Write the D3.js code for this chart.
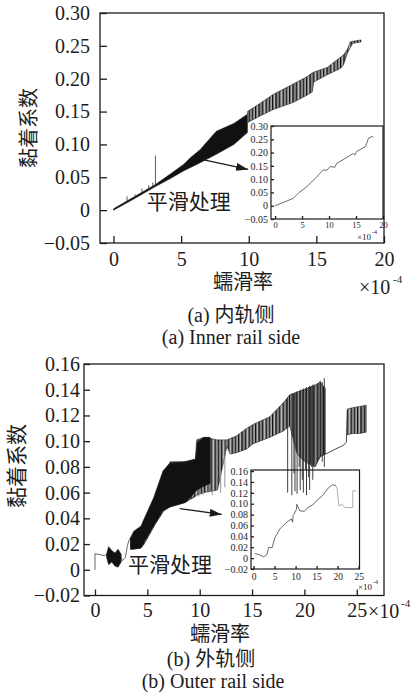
<!DOCTYPE html>
<html>
<head>
<meta charset="utf-8">
<script src="https://cdn.jsdelivr.net/npm/d3@7"></script>
<style>
  body { margin: 0; background: #fff; }
  svg text { font-family: "Liberation Serif", "Noto Sans CJK SC", serif; }
</style>
</head>
<body>
<svg width="414" height="694"></svg>
<script>
// ---------- (a) inner rail side: raw adhesion ----------
let innerBandX  = [0, 1.5, 3.1, 4.2, 5.2, 5.7, 6.4, 7.6, 8.9, 9.9];
let innerBandHi = [0.002, 0.020, 0.039, 0.055, 0.070, 0.080, 0.092, 0.120, 0.132, 0.146];
let innerBandLo = [0, 0.017, 0.036, 0.048, 0.060, 0.065, 0.072, 0.085, 0.100, 0.118];

let innerStripX  = [9.9, 10.8, 11.8, 13.3, 14.3, 14.7, 14.8, 15.8, 16.8, 17.0, 17.3, 17.5, 17.7, 18.3];
let innerStripHi = [0.150, 0.162, 0.176, 0.192, 0.203, 0.209, 0.210, 0.217, 0.233, 0.236, 0.245, 0.256, 0.257, 0.259];
let innerStripLo = [0.133, 0.143, 0.153, 0.164, 0.175, 0.180, 0.195, 0.206, 0.216, 0.221, 0.239, 0.247, 0.254, 0.256];

let innerSpikeX  = [1.0, 1.6, 2.1, 2.6, 2.9, 3.1];
let innerSpikeLo = [0.012, 0.019, 0.026, 0.032, 0.036, 0.038];
let innerSpikeHi = [0.021, 0.024, 0.033, 0.038, 0.042, 0.083];

// smoothed (inset)
let innerSmoothX = [0, 1.5, 3.4, 4.3, 5.9, 7.5, 8.9, 9.6, 10.2, 11.1, 11.4, 13.0, 14.5, 14.8, 15.1, 16.7, 17.0, 17.3, 17.9, 18.2];
let innerSmoothY = [0, 0.012, 0.028, 0.047, 0.072, 0.104, 0.134, 0.134, 0.147, 0.145, 0.159, 0.178, 0.197, 0.191, 0.204, 0.222, 0.235, 0.254, 0.260, 0.259];

let innerXTicks = [0, 5, 10, 15, 20];
let innerYTicks = [-0.05, 0, 0.05, 0.10, 0.15, 0.20, 0.25, 0.30];

// ---------- (b) outer rail side ----------
let outerStartX = [0, 0, 0.9, 1.1];
let outerStartY = [0, 0.0125, 0.011, 0.012];

let outerBlobX  = [1.1, 1.3, 1.6, 1.9, 2.2, 2.5];
let outerBlobHi = [0.012, 0.018, 0.015, 0.013, 0.016, 0.012];
let outerBlobLo = [0.010, 0.004, 0.006, 0.003, 0.002, 0.006];

let outerZigX = [2.5, 2.6, 2.9, 3.1, 3.25, 3.4];
let outerZigY = [0.010, 0.007, 0.0096, 0.019, 0.023, 0.025];

let outerEnvX  = [3.4, 4.4, 4.7, 5.8, 6.6, 7.2, 8.5, 9.6, 9.7, 10.4, 11.7, 12.6, 12.9, 13.5, 14.5, 15.1, 16.7, 18.0, 18.6, 19.3, 19.9, 20.5, 21.0, 21.5, 22.0];
let outerEnvHi = [0.025, 0.032, 0.038, 0.058, 0.077, 0.084, 0.084, 0.086, 0.101, 0.103, 0.101, 0.101, 0.102, 0.104, 0.110, 0.113, 0.119, 0.130, 0.136, 0.138, 0.140, 0.142, 0.1435, 0.146, 0.141];
let outerEnvLo = [0.016, 0.017, 0.020, 0.036, 0.046, 0.049, 0.052, 0.057, 0.058, 0.060, 0.062, 0.096, 0.090, 0.091, 0.094, 0.098, 0.103, 0.108, 0.112, 0.090, 0.085, 0.082, 0.080, 0.088, 0.090];

let outerCoreX  = [3.4, 3.7, 4.4, 4.6, 5.6, 6.5, 7.2, 8.7, 9.6, 9.75, 10.4, 11.0];
let outerCoreHi = [0.025, 0.030, 0.034, 0.038, 0.056, 0.077, 0.083, 0.084, 0.086, 0.099, 0.103, 0.103];
let outerCoreLo = [0.016, 0.016, 0.017, 0.020, 0.034, 0.046, 0.049, 0.0525, 0.061, 0.062, 0.065, 0.067];

let outerSpikeX  = [18.4, 18.8, 19.0, 19.1, 19.3, 19.5, 19.6, 19.8, 19.9, 20.1, 20.2, 20.4, 20.5, 20.7, 20.8, 21.0, 21.3, 21.5, 21.7, 21.9];
let outerSpikeLo = [0.060, 0.058, 0.075, 0.061, 0.059, 0.080, 0.062, 0.070, 0.060, 0.078, 0.058, 0.072, 0.062, 0.080, 0.070, 0.082, 0.086, 0.088, 0.084, 0.080];
let outerSpikeHi = [0.134, 0.137, 0.137, 0.138, 0.139, 0.139, 0.140, 0.140, 0.141, 0.141, 0.142, 0.142, 0.143, 0.143, 0.144, 0.144, 0.145, 0.147, 0.146, 0.149];

let outerGrayX  = [9.9, 10.3, 10.8, 11.2, 11.6, 12.0, 12.4];
let outerGrayLo = [0.057, 0.058, 0.060, 0.058, 0.062, 0.060, 0.064];
let outerGrayHi = [0.100, 0.103, 0.103, 0.101, 0.101, 0.101, 0.101];

let outerTailX = [21.0, 21.5, 22.4, 23.0, 23.7, 24.0, 24.1];
let outerTailY = [0.080, 0.088, 0.0915, 0.094, 0.0967, 0.099, 0.124];

let outerBoxX  = [24.1, 24.6, 25.3, 25.9];
let outerBoxHi = [0.125, 0.126, 0.127, 0.128];
let outerBoxLo = [0.105, 0.106, 0.106, 0.107];

let outerSmoothX = [0.3, 1.6, 2.4, 3.2, 3.6, 4.4, 5.1, 6.3, 7.9, 9.0, 9.3, 9.4, 9.6, 10.2, 10.3, 11.0, 12.1, 12.9, 14.1, 14.9, 16.4, 17.9, 18.8, 19.6, 19.9, 20.3, 21.1, 21.7, 23.6, 23.6, 24.2, 24.5];
let outerSmoothY = [0.0085, 0.0055, 0.0024, 0.007, 0.020, 0.019, 0.038, 0.054, 0.066, 0.072, 0.066, 0.078, 0.080, 0.090, 0.099, 0.087, 0.086, 0.093, 0.098, 0.105, 0.115, 0.130, 0.135, 0.133, 0.127, 0.096, 0.099, 0.093, 0.093, 0.124, 0.124, 0.122];

let outerXTicks = [0, 5, 10, 15, 20, 25];
let outerYTicks = [-0.02, 0, 0.02, 0.04, 0.06, 0.08, 0.10, 0.12, 0.14, 0.16];

let insetXTicksA = [0, 5, 10, 15, 20];
let insetXTicksB = [0, 5, 10, 15, 20, 25];

// ---------------------------------------------------------------
let svg = d3.select("svg");
let serif = '"Liberation Serif", "Noto Sans CJK SC", serif';
let ink = "#1c1c1c";

let defs = svg.append("defs");
let pat = defs.append("pattern").attr("id", "stripes")
    .attr("patternUnits", "userSpaceOnUse").attr("width", 17).attr("height", 10);
pat.append("rect").attr("width", 17).attr("height", 10).attr("fill", "#8e8e8e");
[[0, 1.2, "#111"], [2.1, 0.5, "#e0e0e0"], [3.3, 1.5, "#222"], [5.8, 0.6, "#555"],
 [7.2, 1.0, "#111"], [9.1, 0.6, "#d8d8d8"], [10.6, 1.3, "#2a2a2a"], [12.8, 0.5, "#666"],
 [14.2, 0.9, "#151515"], [16, 0.5, "#bbb"]]
  .forEach(s => pat.append("rect").attr("x", s[0]).attr("width", s[1]).attr("height", 10).attr("fill", s[2]));

defs.append("marker").attr("id", "arrow")
    .attr("viewBox", "0 0 12 8").attr("refX", 12).attr("refY", 4)
    .attr("markerWidth", 12).attr("markerHeight", 8)
    .attr("markerUnits", "userSpaceOnUse").attr("orient", "auto")
  .append("path").attr("d", "M0,0L12,4L0,8Z").attr("fill", ink);

let yFmt = d => d === 0 ? "0" : d3.format(".2f")(d);

function axes(g, x, y, o) {
  let left = x.range()[0], right = x.range()[1];
  let bottom = y.range()[0], top = y.range()[1];
  g.append("g").attr("transform", "translate(0," + bottom + ")")
      .call(d3.axisBottom(x).tickValues(o.xTicks).tickSize(-o.tick).tickPadding(o.xPad).tickFormat(d3.format("d")))
      .call(a => a.select(".domain").remove())
      .attr("font-size", o.xFont);
  g.append("g").attr("transform", "translate(" + left + ",0)")
      .call(d3.axisLeft(y).tickValues(o.yTicks).tickSize(-o.tick).tickPadding(o.yPad).tickFormat(yFmt))
      .call(a => a.select(".domain").remove())
      .attr("font-size", o.yFont);
  g.selectAll(".tick line").attr("stroke", ink).attr("stroke-width", o.sw);
  g.selectAll(".tick text").attr("fill", ink).style("font-family", serif);
  g.append("rect").attr("x", left).attr("y", top)
      .attr("width", right - left).attr("height", bottom - top)
      .attr("fill", "none").attr("stroke", ink).attr("stroke-width", o.sw);
}

function band(g, x, y, xs, hi, lo, fill) {
  g.append("path").datum(d3.zip(xs, hi, lo))
      .attr("d", d3.area().x(d => x(d[0])).y1(d => y(d[1])).y0(d => y(d[2])))
      .attr("fill", fill).attr("stroke", ink).attr("stroke-width", 0.6);
}

function polyline(g, x, y, xs, ys, color, w) {
  g.append("path").datum(d3.zip(xs, ys))
      .attr("d", d3.line().x(d => x(d[0])).y(d => y(d[1])))
      .attr("fill", "none").attr("stroke", color).attr("stroke-width", w);
}

function spikes(g, x, y, xs, lo, hi, color, w) {
  g.selectAll(null).data(d3.zip(xs, lo, hi)).enter().append("line")
      .attr("x1", d => x(d[0])).attr("x2", d => x(d[0]))
      .attr("y1", d => y(d[1])).attr("y2", d => y(d[2]))
      .attr("stroke", color).attr("stroke-width", w || 0.8);
}

function label(g, x, y, txt, size, anchor) {
  return g.append("text").attr("x", x).attr("y", y).text(txt)
      .style("font-family", serif).attr("font-size", size)
      .attr("text-anchor", anchor || "start").attr("fill", ink);
}

// ================= (a) =================
let gA = svg.append("g");
let xA = d3.scaleLinear().domain([-1, 20]).range([100, 384]);
let yA = d3.scaleLinear().domain([-0.05, 0.30]).range([243, 13]);

band(gA, xA, yA, innerBandX, innerBandHi, innerBandLo, "#111");
band(gA, xA, yA, innerStripX, innerStripHi, innerStripLo, "url(#stripes)");
spikes(gA, xA, yA, innerSpikeX, innerSpikeLo, innerSpikeHi, "#333");

// inset
gA.append("rect").attr("x", 250).attr("y", 122).attr("width", 133).attr("height", 115).attr("fill", "#fff");
let xAi = d3.scaleLinear().domain([-0.75, 20]).range([271, 383]);
let yAi = d3.scaleLinear().domain([-0.05, 0.30]).range([219, 126]);
polyline(gA, xAi, yAi, innerSmoothX, innerSmoothY, "#444", 0.8);
axes(gA, xAi, yAi, {xTicks: insetXTicksA, yTicks: innerYTicks, tick: 3, xPad: 3, yPad: 3, xFont: 8.5, yFont: 10, sw: 1.2});
label(gA, 357, 240, "×10", 9);
label(gA, 372, 234, "-4", 6);

axes(gA, xA, yA, {xTicks: innerXTicks, yTicks: innerYTicks, tick: 7, xPad: 9, yPad: 10, xFont: 20, yFont: 20, sw: 1.3});

gA.append("line")
    .attr("x1", xA(6.6)).attr("y1", yA(0.077)).attr("x2", xA(9.95)).attr("y2", yA(0.062))
    .attr("stroke", ink).attr("stroke-width", 1.3).attr("marker-end", "url(#arrow)");
label(gA, xA(2.45), yA(0.0015), "平滑处理", 21);

label(gA, 29, 128, "黏着系数", 20, "middle")
    .attr("transform", "rotate(-90,29,128)").attr("dy", "0.35em");
label(gA, 243, 289, "蠕滑率", 20, "middle");
label(gA, 359, 294, "×10", 20);
label(gA, 393, 283, "-4", 11);
label(gA, 231, 322, "(a)  内轨侧", 20, "middle");
label(gA, 231, 344, "(a)  Inner rail side", 20, "middle");

// ================= (b) =================
let gB = svg.append("g");
let xB = d3.scaleLinear().domain([-1.05, 27.6]).range([84, 384]);
let yB = d3.scaleLinear().domain([-0.02, 0.16]).range([595.5, 364]);
let xBi = d3.scaleLinear().domain([-0.6, 25.2]).range([251, 359.5]);
let yBi = d3.scaleLinear().domain([-0.02, 0.162]).range([569, 470]);

gB.append("rect").attr("x", 220).attr("y", 466).attr("width", 142).attr("height", 124).attr("fill", "#fff");

polyline(gB, xB, yB, outerStartX, outerStartY, "#555", 0.9);
band(gB, xB, yB, outerBlobX, outerBlobHi, outerBlobLo, "#111");
polyline(gB, xB, yB, outerZigX, outerZigY, "#555", 0.9);
band(gB, xB, yB, outerEnvX, outerEnvHi, outerEnvLo, "url(#stripes)");
spikes(gB, xB, yB, outerGrayX, outerGrayLo, outerGrayHi, "#888", 0.9);
band(gB, xB, yB, outerCoreX, outerCoreHi, outerCoreLo, "#111");
spikes(gB, xB, yB, outerSpikeX, outerSpikeLo, outerSpikeHi, "#2a2a2a", 0.9);
polyline(gB, xB, yB, outerTailX, outerTailY, "#333", 0.9);
band(gB, xB, yB, outerBoxX, outerBoxHi, outerBoxLo, "url(#stripes)");

// inset
let split = outerSmoothX.findIndex(v => v >= 19.6);
polyline(gB, xBi, yBi, outerSmoothX.slice(0, split + 1), outerSmoothY.slice(0, split + 1), "#444", 0.8);
polyline(gB, xBi, yBi, outerSmoothX.slice(split), outerSmoothY.slice(split), "#999", 0.8);
axes(gB, xBi, yBi, {xTicks: insetXTicksB, yTicks: outerYTicks, tick: 3, xPad: 4, yPad: 3, xFont: 9.5, yFont: 10, sw: 1.2});
label(gB, 358, 590, "×10", 9);
label(gB, 373, 584, "-4", 6);

axes(gB, xB, yB, {xTicks: outerXTicks, yTicks: outerYTicks, tick: 6, xPad: 7, yPad: 4, xFont: 20, yFont: 20, sw: 1.3});

gB.append("line")
    .attr("x1", xB(8.1)).attr("y1", yB(0.0476)).attr("x2", xB(12.1)).attr("y2", yB(0.043))
    .attr("stroke", ink).attr("stroke-width", 1.3).attr("marker-end", "url(#arrow)");
label(gB, xB(3.15), yB(-0.0016), "平滑处理", 21);

label(gB, 17, 466, "黏着系数", 21, "middle")
    .attr("transform", "rotate(-90,17,466)").attr("dy", "0.35em");
label(gB, 220, 641, "蠕滑率", 20, "middle");
label(gB, 368, 618, "×10", 20);
label(gB, 401, 607, "-4", 11);
label(gB, 211, 666, "(b)  外轨侧", 20, "middle");
label(gB, 213, 688, "(b)  Outer rail side", 20, "middle");
</script>
</body>
</html>
